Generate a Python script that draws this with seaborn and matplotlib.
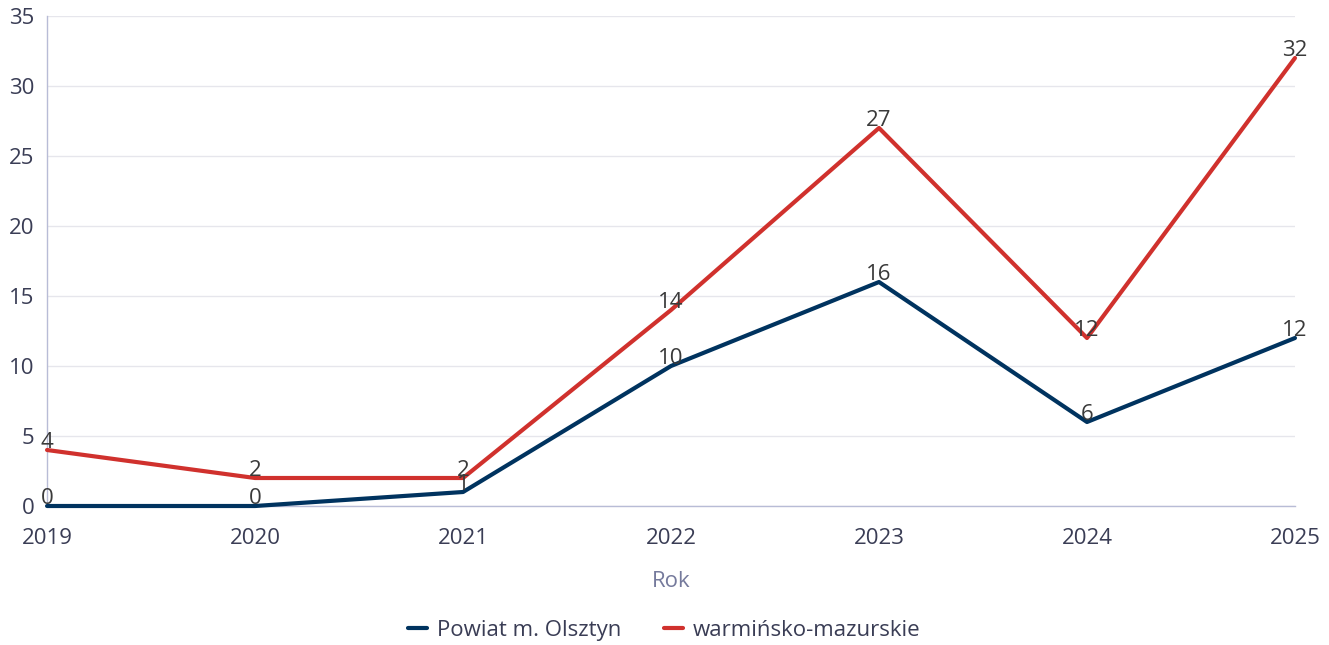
import matplotlib
matplotlib.use("Agg")
import matplotlib.pyplot as plt
import seaborn as sns
import pandas as pd
from matplotlib.lines import Line2D

years = [2019, 2020, 2021, 2022, 2023, 2024, 2025]
powiat = [0, 0, 1, 10, 16, 6, 12]
wojewodztwo = [4, 2, 2, 14, 27, 12, 32]
series_names = ["Powiat m. Olsztyn", "warmińsko-mazurskie"]
series_colors = ["#00335f", "#d0312d"]
y_ticks = [0, 5, 10, 15, 20, 25, 30, 35]

sns.set_theme(style="white")
plt.rcParams["font.family"] = ["Open Sans", "DejaVu Sans"]

df = pd.DataFrame({
    "Rok": years * 2,
    "value": powiat + wojewodztwo,
    "series": [series_names[0]] * len(years) + [series_names[1]] * len(years),
})

fig = plt.figure(figsize=(13.29, 6.45), dpi=100)
ax = fig.add_axes([0.0354, 0.2155, 0.9390, 0.7597])

sns.lineplot(data=df, x="Rok", y="value", hue="series",
             palette=dict(zip(series_names, series_colors)),
             linewidth=3, ax=ax, legend=False, clip_on=False, zorder=3)

# value labels over each point
for name, vals in zip(series_names, [powiat, wojewodztwo]):
    for x, v in zip(years, vals):
        ax.annotate(str(v), (x, v), xytext=(0, 5.5), textcoords="offset points",
                    ha="center", va="center", fontsize=16, color="#3a3a3a",
                    zorder=4, annotation_clip=False)

ax.set_xlim(2019, 2025)
ax.set_ylim(0, 35)
ax.set_xticks(years)
ax.set_xticklabels([str(y) for y in years])
ax.set_yticks(y_ticks)
ax.tick_params(axis="both", length=0, labelsize=16, labelcolor="#3a3d55")
ax.tick_params(axis="x", pad=16)
ax.tick_params(axis="y", pad=9)

ax.grid(axis="y", color="#e6e6ec", linewidth=1)
ax.grid(axis="x", visible=False)
for side in ["top", "right"]:
    ax.spines[side].set_visible(False)
ax.spines["left"].set_color("#b8bcd6")
ax.spines["bottom"].set_color("#b8bcd6")
ax.spines["left"].set_linewidth(1)
ax.spines["bottom"].set_linewidth(1)

ax.set_xlabel("Rok", fontsize=16, color="#757a9c", labelpad=16)
ax.set_ylabel("")

handles = [Line2D([0], [0], color=c, linewidth=3) for c in series_colors]
fig.legend(handles, series_names, loc="center", bbox_to_anchor=(0.5, 0.023),
           ncol=2, frameon=False, fontsize=16, handlelength=0.85,
           handletextpad=0.45, columnspacing=1.9, labelcolor="#3a3d55")

fig.savefig("out.png", dpi=100)
